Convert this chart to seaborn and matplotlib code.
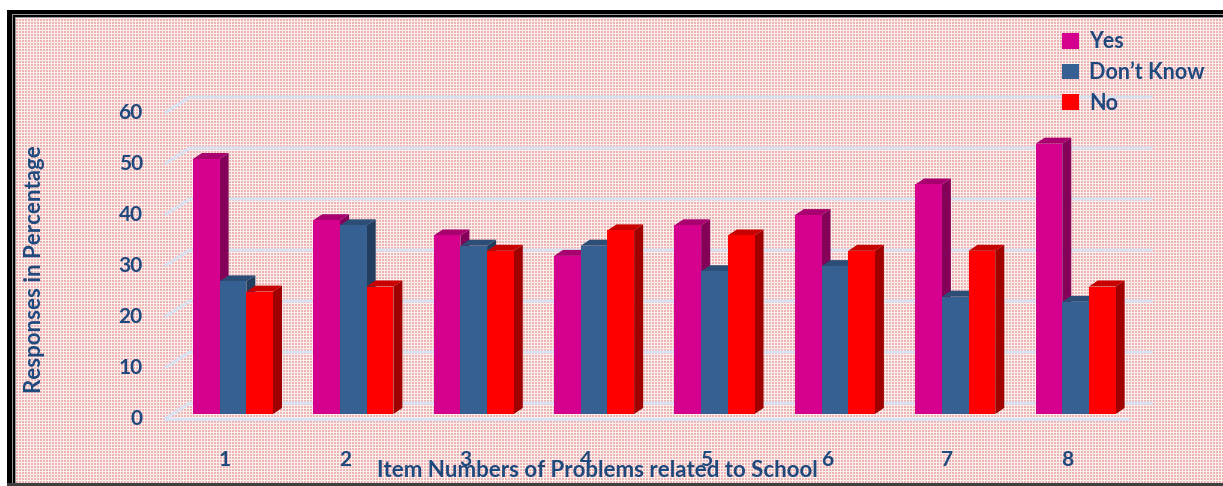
import numpy as np
import pandas as pd
import matplotlib
matplotlib.use("Agg")
import matplotlib.pyplot as plt
import seaborn as sns
from matplotlib.patches import Polygon, Patch
from matplotlib.lines import Line2D
from matplotlib.transforms import IdentityTransform

# ---- data -------------------------------------------------------------
items = ["1", "2", "3", "4", "5", "6", "7", "8"]
yes = [50, 38, 35, 31, 37, 39, 45, 53]
dont_know = [26, 37, 33, 33, 28, 29, 23, 22]
no = [24, 25, 32, 36, 35, 32, 32, 25]
responses = ["Yes", "Don\u2019t Know", "No"]
y_ticks = [0, 10, 20, 30, 40, 50, 60]

# ---- styling ------------------------------------------------------------
front_colors = ["#D6008F", "#376092", "#FF0000"]
side_colors = ["#850058", "#223D5E", "#A00000"]
top_colors = ["#A8006F", "#2C4D75", "#C80000"]
text_color = "#1F497D"
grid_color = "#D8E2F0"

plt.rcParams["font.family"] = ["Lato", "DejaVu Sans"]
FS = 15
FS_TITLE = 16
FS_LEG = 15.5

W, H = 1223, 486
fig = plt.figure(figsize=(W / 100, H / 100), dpi=100)

# ---- patterned background with a double black frame ------------------------
bg = np.ones((H, W, 3))
yy, xx = np.mgrid[0:H, 0:W]
light = np.array([253, 238, 238]) / 255
pink = np.array([237, 180, 180]) / 255
mask = (xx % 3 == 0) | (yy % 3 == 0)
pattern = np.where(mask[..., None], light, pink)
x0, y0 = 16, 18
bg[y0:H - 3, x0:] = pattern[y0:H - 3, x0:]
black = np.zeros(3)
grey = np.array([0.6, 0.6, 0.6])
bg[10:H - 3, 7:12] = black
bg[10:14, 7:] = black
bg[14:H - 3, 12:13] = grey
bg[14:15, 12:] = grey
bg[15:H - 3, 13:15] = black
bg[15:17, 13:] = black
bg[17:H - 3, 15:16] = grey
bg[17:18, 15:] = grey
bg[H - 3:, 7:] = np.array([0.25, 0.25, 0.25])
fig.figimage(bg, xo=0, yo=0, origin="upper", zorder=-1)

# ---- bars -----------------------------------------------------------------
df = pd.DataFrame({
    "item": np.repeat(items, 3),
    "response": responses * len(items),
    "pct": np.ravel(np.column_stack([yes, dont_know, no])),
})

ax = fig.add_axes([172.8 / W, 72 / H, 963 / W, 306 / H], zorder=1)
ax.patch.set_alpha(0)
sns.barplot(data=df, x="item", y="pct", hue="response", hue_order=responses,
            order=items, palette=front_colors, saturation=1, width=0.665,
            gap=0, linewidth=0, legend=False, ax=ax)
ax.set_xlim(-0.5, len(items) - 0.5)
ax.set_ylim(0, 60)
ax.autoscale(False)
ax.set_axis_off()

ident = IdentityTransform()
FRONT = (-8, -5)   # front wall offset, pixels
BACK = (17, 11)    # back wall offset, pixels
DX, DY = 9, 6      # bar depth, pixels


def disp(x, y, off=(0, 0)):
    px, py = ax.transData.transform((x, y))
    return px + off[0], py + off[1]


# simulated depth faces for every bar
for k, container in enumerate(ax.containers):
    for bar in container:
        bar.set_zorder(3 + k)
        bx, by = bar.get_x(), bar.get_y()
        bw, bh = bar.get_width(), bar.get_height()
        (xl, yb) = disp(bx, by)
        (xr, yt) = disp(bx + bw, by + bh)
        side = Polygon([(xr, yb), (xr, yt), (xr + DX, yt + DY), (xr + DX, yb + DY)],
                       closed=True, facecolor=side_colors[k], edgecolor="none",
                       transform=ident, zorder=2.9 + k)
        top = Polygon([(xl, yt), (xr, yt), (xr + DX, yt + DY), (xl + DX, yt + DY)],
                      closed=True, facecolor=top_colors[k], edgecolor="none",
                      transform=ident, zorder=2.95 + k)
        ax.add_patch(side)
        ax.add_patch(top)

# back-wall gridlines with the short floor diagonals
x_lo, x_hi = ax.get_xlim()
for t in y_ticks:
    fx, fy = disp(x_lo, t, FRONT)
    bx_, by_ = disp(x_lo, t, BACK)
    ex, ey = disp(x_hi, t, BACK)
    fig.add_artist(Line2D([fx, bx_, ex], [fy, by_, ey], color=grid_color, lw=2.2,
                          transform=ident, zorder=0.5, solid_capstyle="butt"))
    fig.text(fx - 22, fy, str(t), transform=ident, ha="right", va="center",
             fontsize=FS, fontweight="bold", color=text_color)

# floor front edge
fx, fy = disp(x_lo, 0, FRONT)
ex, ey = disp(x_hi, 0, FRONT)
fig.add_artist(Line2D([fx, ex], [fy, ey], color=grid_color, lw=2.2,
                      transform=ident, zorder=0.5))

# category labels
for i, lab in enumerate(items):
    cx, cy = disp(i, 0, FRONT)
    fig.text(cx, cy - 41, lab, transform=ident, ha="center", va="center",
             fontsize=FS, fontweight="bold", color=text_color)

# axis titles
fig.text(597 / W, 1 - 470 / H, "Item Numbers of Problems related to School",
         ha="center", va="center", fontsize=FS_TITLE, fontweight="bold",
         color=text_color)
fig.text(35 / W, 1 - 269 / H, "Responses in Percentage", rotation=90,
         ha="center", va="center", fontsize=FS_TITLE, fontweight="bold",
         color=text_color)

# legend
handles = [Patch(facecolor=c, edgecolor="none", label=l)
           for c, l in zip(front_colors, responses)]
leg = fig.legend(handles=handles, loc="upper left",
                 bbox_to_anchor=(1043 / W, 1 - 12 / H), frameon=False,
                 handlelength=0.75, handleheight=0.75, handletextpad=0.5,
                 labelspacing=0.45, prop={"size": FS_LEG, "weight": "bold"})
for txt in leg.get_texts():
    txt.set_color(text_color)

fig.savefig("out.png", dpi=100)
